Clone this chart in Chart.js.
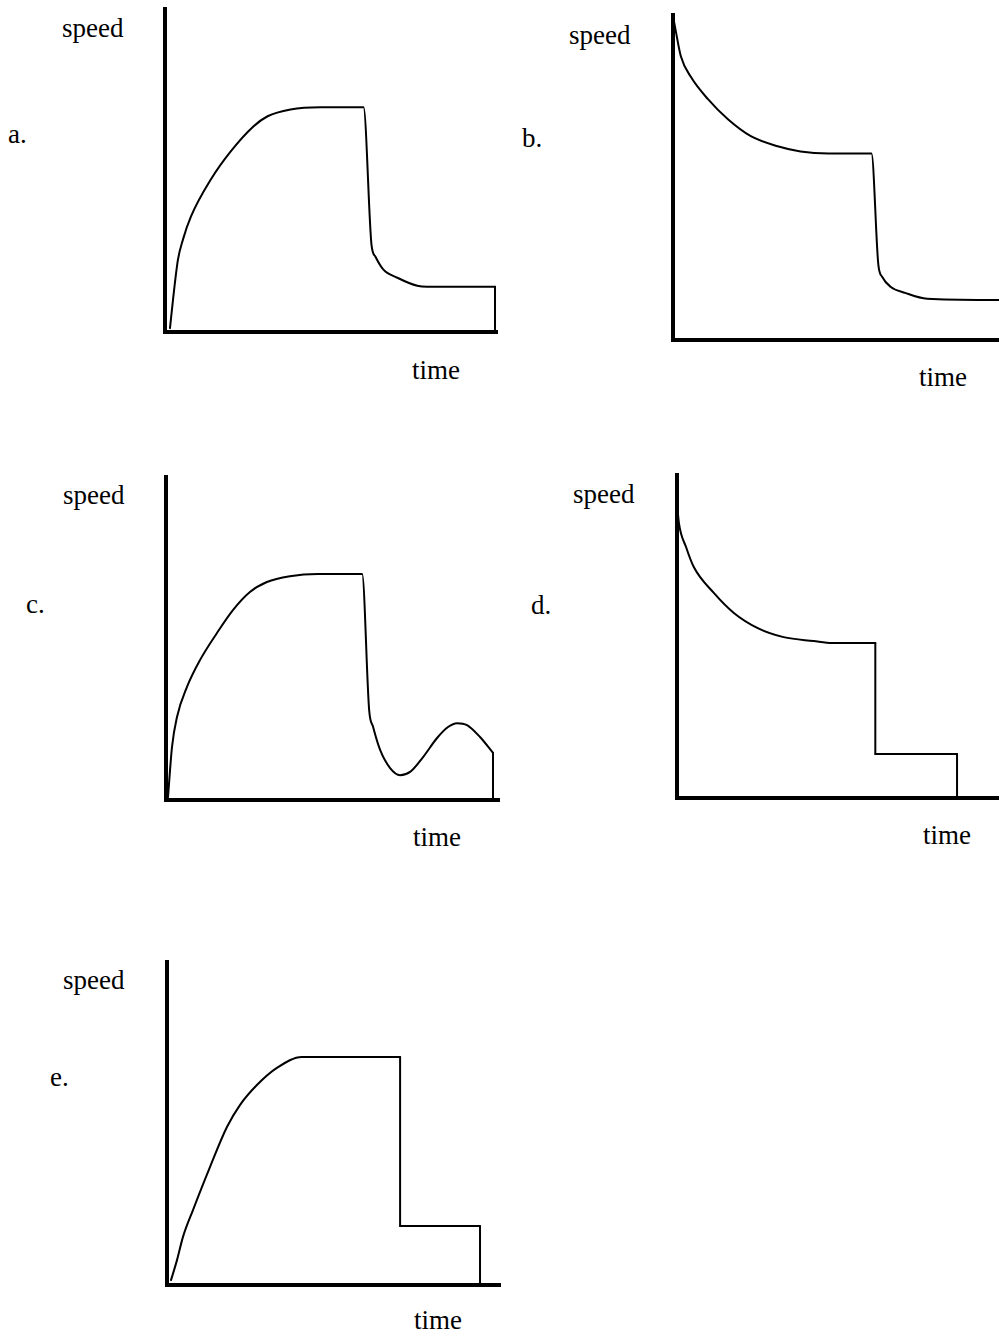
<!DOCTYPE html>
<html>
<head>
<meta charset="utf-8">
<title>speed / time graphs</title>
<script src="https://cdn.jsdelivr.net/npm/chart.js@4.4.1/dist/chart.umd.min.js"></script>
<style>
  html,body{margin:0;padding:0;background:#fff;overflow:hidden;}
  body{width:999px;height:1335px;position:relative;}
  canvas{position:absolute;}
  .lbl{position:absolute;font-family:"Liberation Serif","Times New Roman",serif;font-size:27px;line-height:27px;color:#000;white-space:nowrap;}
</style>
</head>
<body>
<script>
// ---- data (time 0..100, speed 0..100 per panel) ----
const timeA  = [1.5, 2.4, 3.9, 5.4, 7.8, 13.8, 19.8, 26.7, 30.9, 37.8, 46.8, 59.8, 62.2, 63.4, 65.8, 70.0, 76.0, 79.0, 99.4, 99.4];
const speedA = [1.2, 9.9, 22.4, 28.6, 35.7, 47.2, 55.9, 63.7, 66.8, 68.9, 69.6, 69.6, 27.0, 23.3, 19.3, 16.8, 14.3, 14.0, 14.0, 0];

const timeB  = [0, 0.9, 2.4, 5.5, 10.7, 16.8, 23.8, 32.0, 39.0, 47.6, 60.7, 62.8, 64.0, 66.5, 71.0, 77.7, 100];
const speedB = [99.7, 94.8, 87.3, 80.9, 74.1, 67.9, 62.7, 59.6, 58.0, 57.4, 57.4, 23.1, 19.4, 16.4, 14.5, 12.7, 12.3];

const timeC  = [0.6, 1.8, 3.3, 6.3, 10.2, 15.3, 20.1, 25.2, 30.3, 37.2, 45.6, 58.9, 61.0, 62.2, 64.3, 67.3, 70.3, 73.3, 77.2, 81.4, 84.7, 87.4, 90.4, 94.3, 98.2, 98.2];
const speedC = [0.9, 16.4, 25.7, 35.0, 43.3, 51.7, 58.8, 64.4, 67.5, 69.3, 70.0, 70.0, 27.9, 22.6, 15.5, 9.9, 7.7, 8.7, 13.3, 19.2, 22.6, 23.8, 23.2, 19.5, 14.6, 0];

const timeD  = [0, 0.6, 2.8, 5.2, 11.4, 17.6, 25.0, 33.0, 42.3, 48.1, 61.4, 61.4, 86.7, 86.7];
const speedD = [91.3, 85.1, 77.7, 71.5, 63.5, 57.3, 52.6, 49.8, 48.6, 48.0, 48.0, 13.6, 13.6, 0];

const timeE  = [1.2, 3.0, 4.8, 7.8, 12.9, 18.0, 21.9, 27.0, 33.0, 40.5, 70.0, 70.0, 94.0, 94.0];
const speedE = [1.5, 7.7, 14.9, 23.2, 36.5, 48.9, 55.7, 61.9, 67.2, 70.6, 70.6, 18.3, 18.3, 0];

const panelLetters = ['a.', 'b.', 'c.', 'd.', 'e.'];
const yTitle = 'speed';
const xTitle = 'time';

// ---- layout: plot box [left, top, right, bottom] and label spots [x, baseline] ----
const PAD = 6;
const panels = [
  {time:timeA, speed:speedA, box:[165, 9, 497, 332],   speedAt:[62, 36],   letterAt:[8, 142],   timeAt:[412, 378]},
  {time:timeB, speed:speedB, box:[673, 15, 1000, 340], speedAt:[569, 43],  letterAt:[522, 146], timeAt:[919, 385]},
  {time:timeC, speed:speedC, box:[166, 477, 499, 800], speedAt:[63, 503],  letterAt:[26, 612],  timeAt:[413, 845]},
  {time:timeD, speed:speedD, box:[677, 475, 1000, 798],speedAt:[573, 502], letterAt:[531, 613], timeAt:[923, 843]},
  {time:timeE, speed:speedE, box:[167, 962, 500, 1285],speedAt:[63, 988],  letterAt:[50, 1085], timeAt:[414, 1328]}
];

function label(text, at){
  const d = document.createElement('div');
  d.className = 'lbl';
  d.textContent = text;
  d.style.left = at[0] + 'px';
  d.style.top = (at[1] - 21) + 'px';
  document.body.appendChild(d);
}

function axis(){
  return {
    type:'linear', min:0, max:100,
    grid:{display:false, drawTicks:false},
    ticks:{display:false},
    border:{display:true, width:4, color:'#000'}
  };
}

// split a series into smooth runs and straight vertical drops
// (monotone interpolation can't handle two points at the same time value)
function pieces(xs, ys){
  const out = [];
  let run = [{x:xs[0], y:ys[0]}];
  for(let k=1;k<xs.length;k++){
    const pt = {x:xs[k], y:ys[k]};
    if(xs[k] === xs[k-1]){
      if(run.length > 1) out.push({pts:run, smooth:true});
      out.push({pts:[run[run.length-1], pt], smooth:false});
      run = [pt];
    } else run.push(pt);
  }
  if(run.length > 1) out.push({pts:run, smooth:true});
  return out;
}

panels.forEach((p, i) => {
  const [l, t, r, b] = p.box;
  const cv = document.createElement('canvas');
  cv.width = (r - l) + PAD * 2;
  cv.height = (b - t) + PAD * 2;
  cv.style.left = (l - PAD) + 'px';
  cv.style.top = (t - PAD) + 'px';
  document.body.appendChild(cv);

  const datasets = pieces(p.time, p.speed).map(s => ({
    data: s.pts,
    borderColor:'#000', borderWidth:2, pointRadius:0,
    cubicInterpolationMode: s.smooth ? 'monotone' : 'default',
    tension:0, fill:false, clip:false, borderCapStyle:'round', borderJoinStyle:'round'
  }));

  new Chart(cv, {
    type:'line',
    data:{datasets},
    options:{
      responsive:false, animation:false,
      layout:{padding:PAD},
      plugins:{legend:{display:false}, tooltip:{enabled:false}},
      scales:{x:axis(), y:axis()}
    }
  });

  label(yTitle, p.speedAt);
  label(panelLetters[i], p.letterAt);
  label(xTitle, p.timeAt);
});
</script>
</body>
</html>
